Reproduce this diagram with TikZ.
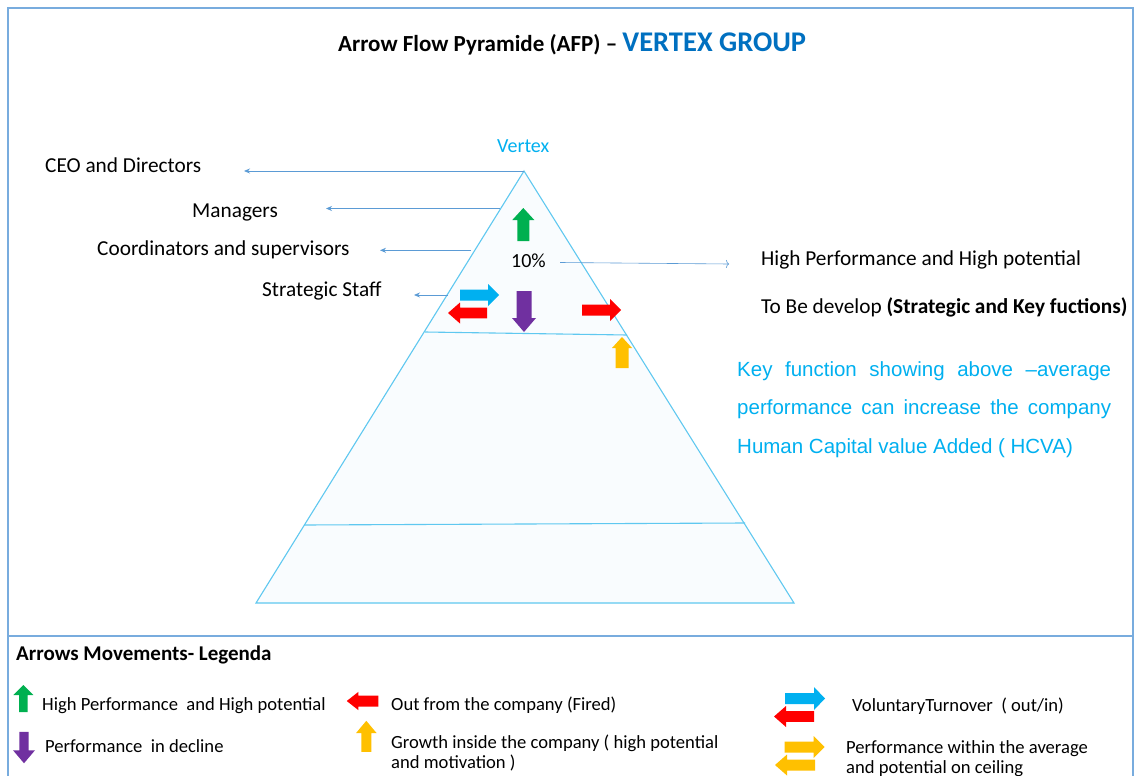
\documentclass[tikz,border=0pt]{standalone}
\usepackage{fontspec}
\setmainfont{Carlito}
\newfontfamily\arialf[Ligatures=TeX]{Liberation Sans}
\usetikzlibrary{arrows.meta}
\definecolor{frameblue}{RGB}{120,172,222}
\definecolor{pyrline}{RGB}{95,200,240}
\definecolor{pyrfill}{RGB}{249,252,254}
\definecolor{leader}{RGB}{91,155,213}
\definecolor{cyantext}{RGB}{0,176,240}
\definecolor{titleblue}{RGB}{0,112,192}
\definecolor{agreen}{RGB}{0,176,80}
\definecolor{apurple}{RGB}{112,48,160}
\definecolor{ared}{RGB}{255,0,0}
\definecolor{ablue}{RGB}{0,176,240}
\definecolor{ayellow}{RGB}{255,192,0}
\tikzset{
  pics/barrow/.style n args={5}{code={
    \fill[#5] ({-#1/2},{-#3}) -- ({#1/2-#4},{-#3}) -- ({#1/2-#4},{-#2}) -- ({#1/2},0)
      -- ({#1/2-#4},{#2}) -- ({#1/2-#4},{#3}) -- ({-#1/2},{#3}) -- cycle;}},
  lbl/.style={anchor=base west, inner sep=0pt, font=\fontsize{21.3}{24}\selectfont},
  leg/.style={anchor=base west, inner sep=0pt, font=\fontsize{18.6}{22}\selectfont},
  bluepar/.style={anchor=base west, inner sep=0pt, text=cyantext, font=\arialf\fontsize{20.5}{24}\selectfont},
  leaderarrow/.style={draw=leader, line width=0.8pt, -{Stealth[length=6pt,width=5pt]}},
  openarrow/.style={draw=leader, line width=0.6pt, -{To[length=3pt,width=8pt]}},
  pyr/.style={draw=pyrline, line width=1.1pt},
}
\begin{document}
\begin{tikzpicture}[x=1pt,y=-1pt]
\useasboundingbox (0,0) rectangle (1138,776);
\fill[white] (0,0) rectangle (1138,776);
% frame
\draw[frameblue, line width=1.6pt] (8,776) -- (8,8) -- (1133,8) -- (1133,776);
\draw[frameblue, line width=1.6pt] (8,636) -- (1133,636);

% title
\node[anchor=base west, inner sep=0pt, font=\bfseries\fontsize{23}{27}\selectfont] (title) at (338,52)
  {Arrow Flow Pyramide (AFP) \textendash{} {\color{titleblue}\fontsize{28.5}{32}\selectfont VERTEX GROUP}};

% pyramid
\coordinate (apex) at (524,171);
\coordinate (bl) at (256,603);
\coordinate (br) at (794,603);
\fill[pyrfill] (apex) -- (bl) -- (br) -- cycle;
\draw[pyr, line join=miter] (apex) -- (bl) -- (br) -- cycle;
\coordinate (b1l) at (425,332);
\coordinate (b1r) at (627,335);
\coordinate (b2l) at (304,525);
\coordinate (b2r) at (745,523);
\draw[pyr] (b1l) -- (b1r);
\draw[pyr] (b2l) -- (b2r);

\node[anchor=base west, inner sep=0pt, text=cyantext, font=\fontsize{20}{24}\selectfont] (vertex) at (497,152.5) {Vertex};
\node[anchor=base west, inner sep=0pt, font=\fontsize{20}{24}\selectfont] (pct) at (511,267.5) {10\%};

% left labels and leaders
\node[lbl] (ceo) at (45,172) {CEO and Directors};
\node[lbl] (mgr) at (192,217.5) {Managers};
\node[lbl] (coord) at (97,255.5) {Coordinators and supervisors};
\node[lbl] (staff) at (262,296.5) {Strategic Staff};
\coordinate (ceoTip) at (244,171);
\coordinate (mgrFrom) at (500,208.5);
\coordinate (mgrTip) at (326,208.5);
\coordinate (coordFrom) at (471,250.3);
\coordinate (coordTip) at (380,250.3);
\coordinate (staffFrom) at (448,295);
\coordinate (staffTip) at (414,295);
\draw[leaderarrow] (apex) -- (ceoTip);
\draw[leaderarrow] (mgrFrom) -- (mgrTip);
\draw[leaderarrow] (coordFrom) -- (coordTip);
\draw[leaderarrow] (staffFrom) -- (staffTip);

% right labels
\coordinate (pctFrom) at (560,262.5);
\coordinate (pctTip) at (729,264);
\draw[openarrow] (pctFrom) -- (pctTip);
\node[lbl] (hp) at (761,265) {High Performance and High potential};
\node[lbl] (tbd) at (761,313) {To Be develop \textbf{(Strategic and Key fuctions)}};

% blue paragraph
\node[bluepar] (kf1) at (737,376) {\makebox[374pt][s]{Key function showing above \textendash average}};
\node[bluepar] (kf2) at (737,414.5) {\makebox[374pt][s]{performance can increase the company}};
\node[bluepar] (kf3) at (737,453) {Human Capital value Added ( HCVA)};

% block arrows in the pyramid
\pic[rotate=90] (upG) at (523.3,224.5) {barrow={33}{11}{6}{12}{agreen}};
\pic (rtB) at (479.5,295) {barrow={39}{11}{5.5}{11}{ablue}};
\pic[rotate=180] (lfR) at (467.5,313) {barrow={39}{10.5}{5.3}{12}{ared}};
\pic[rotate=-90] (dnP) at (524,311.5) {barrow={41}{12}{7.5}{14}{apurple}};
\pic (rtR) at (601.5,310) {barrow={39}{11}{5.5}{11}{ared}};
\pic[rotate=90] (upY) at (622,352.5) {barrow={31}{10}{6.5}{11}{ayellow}};

% legend
\node[anchor=base west, inner sep=0pt, font=\bfseries\fontsize{21}{24}\selectfont] (legtitle) at (16,660) {Arrows Movements- Legenda};
\pic[rotate=90] (lgG) at (23.3,698.5) {barrow={27}{10}{4.2}{10}{agreen}};
\node[leg] (lgGt) at (42,710.7) {High Performance\ \ and High potential};
\pic[rotate=-90] (lgP) at (24,747.5) {barrow={31.5}{11}{4.7}{13}{apurple}};
\node[leg] (lgPt) at (45,752.3) {Performance\ \ in decline};
\pic[rotate=180] (lgR) at (362.5,701) {barrow={31.5}{9.2}{5.5}{11.7}{ared}};
\node[leg] (lgRt) at (391,710.7) {Out from the company (Fired)};
\pic[rotate=90] (lgY) at (366.3,736.3) {barrow={31}{10.3}{5}{12.3}{ayellow}};
\node[leg] (lgYt1) at (391,748.3) {Growth inside the company ( high potential};
\node[leg] (lgYt2) at (391,768.3) {and motivation )};
\pic (lgB) at (805,698.5) {barrow={40}{11.5}{5.5}{11}{ablue}};
\pic[rotate=180] (lgR2) at (794,716.5) {barrow={40}{10.5}{5.3}{12}{ared}};
\node[leg] (lgBt) at (852,711.7) {VoluntaryTurnover\ \ ( out/in)};
\pic (lgY2) at (804.5,747) {barrow={40}{11}{5.5}{11}{ayellow}};
\pic[rotate=180] (lgY3) at (795,765) {barrow={40}{10.5}{5.5}{12}{ayellow}};
\node[leg] (lgY2t1) at (846,753.3) {Performance within the average};
\node[leg] (lgY2t2) at (846,773.3) {and potential on ceiling};
\end{tikzpicture}
\end{document}
